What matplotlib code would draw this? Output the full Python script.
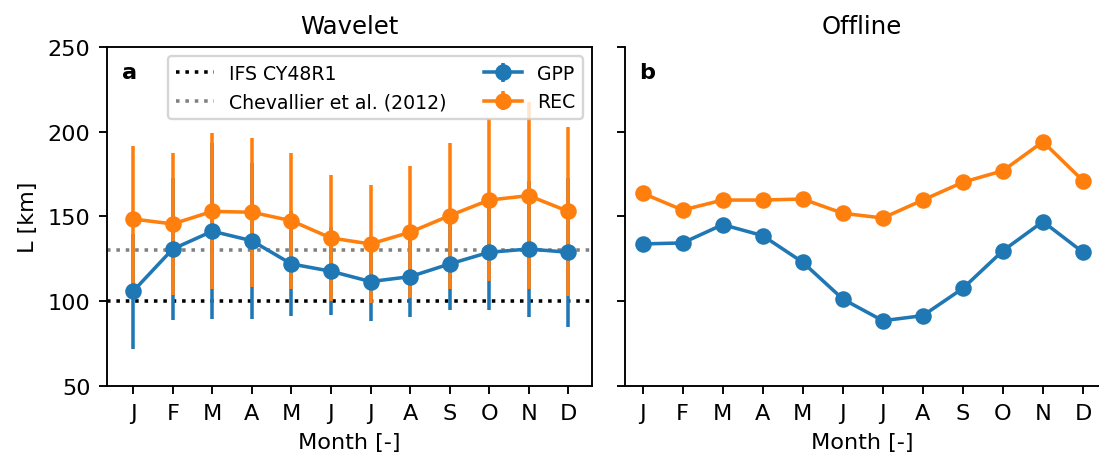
import numpy as np
import matplotlib.pyplot as plt

plt.rcParams['font.size'] = 9.5

months = ['J', 'F', 'M', 'A', 'M', 'J', 'J', 'A', 'S', 'O', 'N', 'D']

# Wavelet estimates (mean and spread)
gpp_wav = [105.9, 130.8, 141.3, 135.7, 122.0, 117.7, 111.6, 114.5, 122.0, 128.9, 130.8, 128.9]
gpp_wav_err = [34, 42, 52, 46, 31, 26, 23, 24, 27, 34, 40, 44]
rec_wav = [148.5, 145.6, 153.0, 152.5, 147.5, 137.3, 133.8, 140.7, 150.5, 159.7, 162.3, 153.0]
rec_wav_err = [43, 42, 46, 44, 40, 37, 35, 39, 43, 48, 55, 50]

# Offline estimates
gpp_off = [133.8, 134.4, 145.2, 138.7, 123.0, 101.3, 88.5, 91.5, 107.6, 129.8, 147.0, 128.9]
rec_off = [163.7, 153.8, 159.7, 159.7, 160.3, 151.9, 149.1, 159.7, 170.2, 177.0, 194.1, 171.1]

# reference length scales
ifs_L = 100
chev_L = 130

x = np.arange(len(months))

fig = plt.figure(figsize=(1099/170, 455/170), dpi=170)
ax1 = fig.add_axes([0.0974, 0.1495, 0.4413, 0.745])
ax2 = fig.add_axes([0.5687, 0.1495, 0.4313, 0.745], sharey=ax1)

# Panel a: wavelet
h_ifs = ax1.axhline(ifs_L, color='k', ls=':', label='IFS CY48R1')
h_chev = ax1.axhline(chev_L, color='gray', ls=':', label='Chevallier et al. (2012)')
h_gpp = ax1.errorbar(x, gpp_wav, yerr=gpp_wav_err, fmt='-o', color='C0', label='GPP')
h_rec = ax1.errorbar(x, rec_wav, yerr=rec_wav_err, fmt='-o', color='C1', label='REC')
ax1.set_ylim(50, 250)
ax1.set_xlim(-0.66, 11.6)
ax1.set_xticks(x)
ax1.set_xticklabels(months)
ax1.set_ylabel('L [km]')
ax1.set_xlabel('Month [-]')
ax1.set_title('Wavelet', fontsize=10.3)
ax1.text(0.03, 0.955, 'a', transform=ax1.transAxes, fontweight='bold', va='top', ha='left')
ax1.legend(handles=[h_ifs, h_chev, h_gpp, h_rec], ncol=2, loc='upper right', fontsize=8)

# Panel b: offline
ax2.plot(x, gpp_off, '-o', color='C0')
ax2.plot(x, rec_off, '-o', color='C1')
ax2.set_xlim(-0.44, 11.4)
ax2.set_xticks(x)
ax2.set_xticklabels(months)
ax2.set_xlabel('Month [-]')
ax2.set_title('Offline', fontsize=10.3)
ax2.tick_params(labelleft=False)
ax2.spines['top'].set_visible(False)
ax2.spines['right'].set_visible(False)
ax2.text(0.03, 0.955, 'b', transform=ax2.transAxes, fontweight='bold', va='top', ha='left')

fig.savefig('out.png', dpi=170)
